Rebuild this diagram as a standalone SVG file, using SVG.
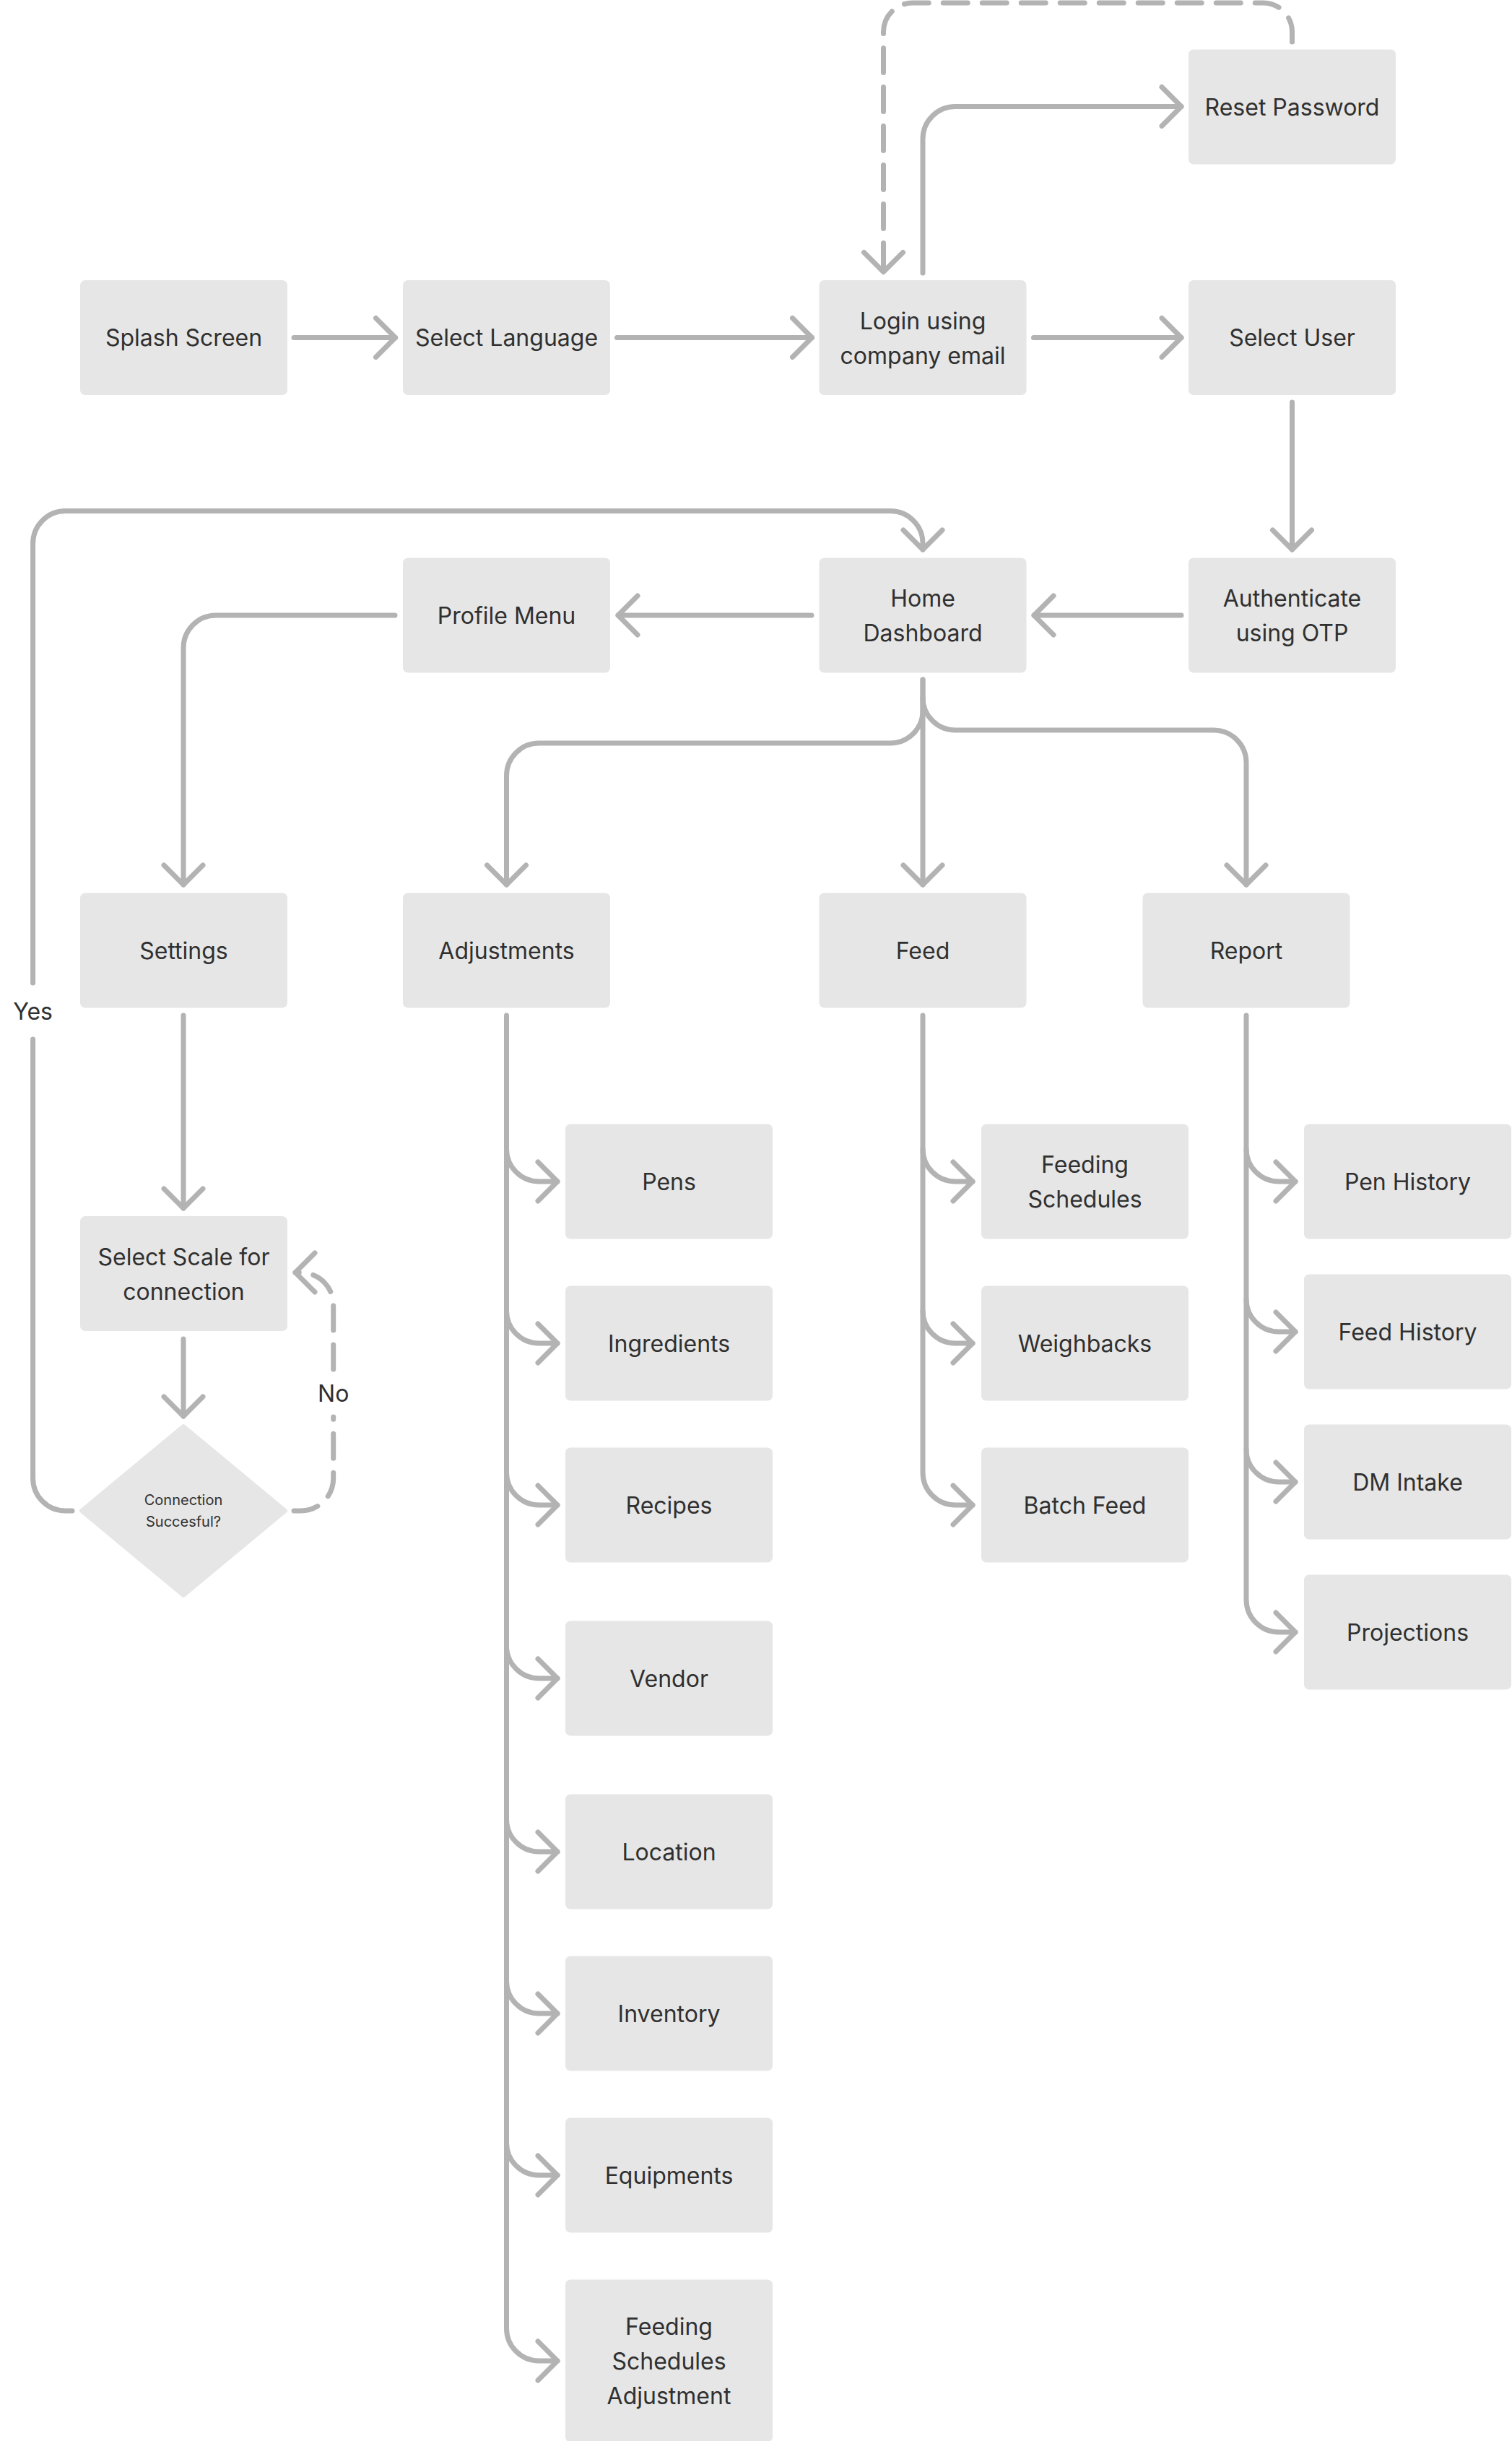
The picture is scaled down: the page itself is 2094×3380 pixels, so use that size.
<svg xmlns="http://www.w3.org/2000/svg" width="2094" height="3380" viewBox="0 0 2094 3380">
<style>
.node{fill:#e6e6e6}
.lbl{font-family:Inter,"Liberation Sans",sans-serif;font-size:32px;fill:#303030;text-anchor:middle}
.small{font-size:20px}
.c{fill:none;stroke:#b3b3b3;stroke-width:7;stroke-linecap:round;stroke-linejoin:round}
.d{stroke-dasharray:34 20}
</style>
<defs>
<marker id="arr" viewBox="-32 -32 40 64" refX="0" refY="0" markerWidth="40" markerHeight="64" markerUnits="userSpaceOnUse" orient="auto">
<path d="M-27,-27 L0,0 L-27,27" fill="none" stroke="#b3b3b3" stroke-width="7" stroke-linecap="round" stroke-linejoin="round"/>
</marker>
</defs>
<rect width="2094" height="3380" fill="#ffffff"/>
<g id="connectors">
<path class="c" d="M407,467.5 H547.5" marker-end="url(#arr)"/>
<path class="c" d="M854.5,467.5 H1124.5" marker-end="url(#arr)"/>
<path class="c" d="M1431.5,467.5 H1636" marker-end="url(#arr)"/>
<path class="c" d="M1278,378 V192.5 A45,45 0 0 1 1323,147.5 H1636" marker-end="url(#arr)"/>
<path class="c d" d="M1789.5,58 V44 A40,40 0 0 0 1749.5,4 H1263.5 A40,40 0 0 0 1223.5,44 V376.5" marker-end="url(#arr)"/>
<path class="c" d="M1789.5,557 V761" marker-end="url(#arr)"/>
<path class="c" d="M1636,852 H1432" marker-end="url(#arr)"/>
<path class="c" d="M1124,852 H856" marker-end="url(#arr)"/>
<path class="c" d="M547,852 H299 A45,45 0 0 0 254,897 V1225" marker-end="url(#arr)"/>
<path class="c" d="M100,2092 H90.6 A45,45 0 0 1 45.6,2047 V1439"/>
<path class="c" d="M45.6,1361 V752.5 A45,45 0 0 1 90.6,707.5 H1233 A45,45 0 0 1 1278,752.5 V761" marker-end="url(#arr)"/>
<path class="c" d="M1278,941 V1225" marker-end="url(#arr)"/>
<path class="c" d="M1278,941 V984 A45,45 0 0 1 1233,1029 H746.5 A45,45 0 0 0 701.5,1074 V1225" marker-end="url(#arr)"/>
<path class="c" d="M1278,966 A45,45 0 0 0 1323,1011 H1681 A45,45 0 0 1 1726,1056 V1225" marker-end="url(#arr)"/>
<path class="c" d="M254,1406 V1673" marker-end="url(#arr)"/>
<path class="c" d="M254,1854 V1961" marker-end="url(#arr)"/>
<path class="c d" d="M407,2092 H416.7 A45,45 0 0 0 461.7,2047 V1962"/>
<path class="c d" d="M461.7,1896 V1807 A45,45 0 0 0 416.7,1762 H409" marker-end="url(#arr)"/>
<path class="c" d="M701.5,1406 V3224 A45,45 0 0 0 746.5,3269 H772" marker-end="url(#arr)"/>
<path class="c" d="M701.5,1591 A45,45 0 0 0 746.5,1636 H772" marker-end="url(#arr)"/>
<path class="c" d="M701.5,1815 A45,45 0 0 0 746.5,1860 H772" marker-end="url(#arr)"/>
<path class="c" d="M701.5,2039 A45,45 0 0 0 746.5,2084 H772" marker-end="url(#arr)"/>
<path class="c" d="M701.5,2279 A45,45 0 0 0 746.5,2324 H772" marker-end="url(#arr)"/>
<path class="c" d="M701.5,2519 A45,45 0 0 0 746.5,2564 H772" marker-end="url(#arr)"/>
<path class="c" d="M701.5,2743 A45,45 0 0 0 746.5,2788 H772" marker-end="url(#arr)"/>
<path class="c" d="M701.5,2967 A45,45 0 0 0 746.5,3012 H772" marker-end="url(#arr)"/>
<path class="c" d="M1278,1406 V2039 A45,45 0 0 0 1323,2084 H1347" marker-end="url(#arr)"/>
<path class="c" d="M1278,1591 A45,45 0 0 0 1323,1636 H1347" marker-end="url(#arr)"/>
<path class="c" d="M1278,1815 A45,45 0 0 0 1323,1860 H1347" marker-end="url(#arr)"/>
<path class="c" d="M1726,1406 V2215 A45,45 0 0 0 1771,2260 H1794" marker-end="url(#arr)"/>
<path class="c" d="M1726,1591 A45,45 0 0 0 1771,1636 H1794" marker-end="url(#arr)"/>
<path class="c" d="M1726,1799 A45,45 0 0 0 1771,1844 H1794" marker-end="url(#arr)"/>
<path class="c" d="M1726,2007 A45,45 0 0 0 1771,2052 H1794" marker-end="url(#arr)"/>
</g>
<g id="edge-labels">
<text class="lbl" x="45.6" y="1412">Yes</text>
<text class="lbl" x="461.7" y="1940.6">No</text>
</g>
<g id="reset-password"><rect class="node" x="1646" y="68.5" width="287" height="159" rx="7"/><text class="lbl" x="1789.5" y="159.5">Reset Password</text></g>
<g id="splash-screen"><rect class="node" x="111" y="388" width="287" height="159" rx="7"/><text class="lbl" x="254.5" y="479">Splash Screen</text></g>
<g id="select-language"><rect class="node" x="558" y="388" width="287" height="159" rx="7"/><text class="lbl" x="701.5" y="479">Select Language</text></g>
<g id="login"><rect class="node" x="1134.5" y="388" width="287" height="159" rx="7"/><text class="lbl" x="1278" y="455.5">Login using</text><text class="lbl" x="1278" y="503.5">company email</text></g>
<g id="select-user"><rect class="node" x="1646" y="388" width="287" height="159" rx="7"/><text class="lbl" x="1789.5" y="479">Select User</text></g>
<g id="profile-menu"><rect class="node" x="558" y="772.5" width="287" height="159" rx="7"/><text class="lbl" x="701.5" y="863.5">Profile Menu</text></g>
<g id="home-dashboard"><rect class="node" x="1134.5" y="772.5" width="287" height="159" rx="7"/><text class="lbl" x="1278" y="840">Home</text><text class="lbl" x="1278" y="888">Dashboard</text></g>
<g id="authenticate"><rect class="node" x="1646" y="772.5" width="287" height="159" rx="7"/><text class="lbl" x="1789.5" y="840">Authenticate</text><text class="lbl" x="1789.5" y="888">using OTP</text></g>
<g id="settings"><rect class="node" x="111" y="1236.5" width="287" height="159" rx="7"/><text class="lbl" x="254.5" y="1327.5">Settings</text></g>
<g id="adjustments"><rect class="node" x="558" y="1236.5" width="287" height="159" rx="7"/><text class="lbl" x="701.5" y="1327.5">Adjustments</text></g>
<g id="feed"><rect class="node" x="1134.5" y="1236.5" width="287" height="159" rx="7"/><text class="lbl" x="1278" y="1327.5">Feed</text></g>
<g id="report"><rect class="node" x="1582.5" y="1236.5" width="287" height="159" rx="7"/><text class="lbl" x="1726" y="1327.5">Report</text></g>
<g id="select-scale"><rect class="node" x="111" y="1684" width="287" height="159" rx="7"/><text class="lbl" x="254.5" y="1751.5">Select Scale for</text><text class="lbl" x="254.5" y="1799.5">connection</text></g>
<g id="connection-successful"><polygon class="node" points="254,1975 395,2092 254,2209 113,2092" stroke="#e6e6e6" stroke-width="6" stroke-linejoin="round"/><text class="lbl small" x="254" y="2084">Connection</text><text class="lbl small" x="254" y="2114">Succesful?</text></g>
<g id="pens"><rect class="node" x="783" y="1556.5" width="287" height="159" rx="7"/><text class="lbl" x="926.5" y="1647.5">Pens</text></g>
<g id="ingredients"><rect class="node" x="783" y="1780.5" width="287" height="159" rx="7"/><text class="lbl" x="926.5" y="1871.5">Ingredients</text></g>
<g id="recipes"><rect class="node" x="783" y="2004.5" width="287" height="159" rx="7"/><text class="lbl" x="926.5" y="2095.5">Recipes</text></g>
<g id="vendor"><rect class="node" x="783" y="2244.5" width="287" height="159" rx="7"/><text class="lbl" x="926.5" y="2335.5">Vendor</text></g>
<g id="location"><rect class="node" x="783" y="2484.5" width="287" height="159" rx="7"/><text class="lbl" x="926.5" y="2575.5">Location</text></g>
<g id="inventory"><rect class="node" x="783" y="2708.5" width="287" height="159" rx="7"/><text class="lbl" x="926.5" y="2799.5">Inventory</text></g>
<g id="equipments"><rect class="node" x="783" y="2932.5" width="287" height="159" rx="7"/><text class="lbl" x="926.5" y="3023.5">Equipments</text></g>
<g id="feeding-schedules-adjustment"><rect class="node" x="783" y="3156.5" width="287" height="225" rx="7"/><text class="lbl" x="926.5" y="3233">Feeding</text><text class="lbl" x="926.5" y="3281">Schedules</text><text class="lbl" x="926.5" y="3329">Adjustment</text></g>
<g id="feeding-schedules"><rect class="node" x="1359" y="1556.5" width="287" height="159" rx="7"/><text class="lbl" x="1502.5" y="1624">Feeding</text><text class="lbl" x="1502.5" y="1672">Schedules</text></g>
<g id="weighbacks"><rect class="node" x="1359" y="1780.5" width="287" height="159" rx="7"/><text class="lbl" x="1502.5" y="1871.5">Weighbacks</text></g>
<g id="batch-feed"><rect class="node" x="1359" y="2004.5" width="287" height="159" rx="7"/><text class="lbl" x="1502.5" y="2095.5">Batch Feed</text></g>
<g id="pen-history"><rect class="node" x="1806" y="1556.5" width="287" height="159" rx="7"/><text class="lbl" x="1949.5" y="1647.5">Pen History</text></g>
<g id="feed-history"><rect class="node" x="1806" y="1764.5" width="287" height="159" rx="7"/><text class="lbl" x="1949.5" y="1855.5">Feed History</text></g>
<g id="dm-intake"><rect class="node" x="1806" y="1972.5" width="287" height="159" rx="7"/><text class="lbl" x="1949.5" y="2063.5">DM Intake</text></g>
<g id="projections"><rect class="node" x="1806" y="2180.5" width="287" height="159" rx="7"/><text class="lbl" x="1949.5" y="2271.5">Projections</text></g>
</svg>
